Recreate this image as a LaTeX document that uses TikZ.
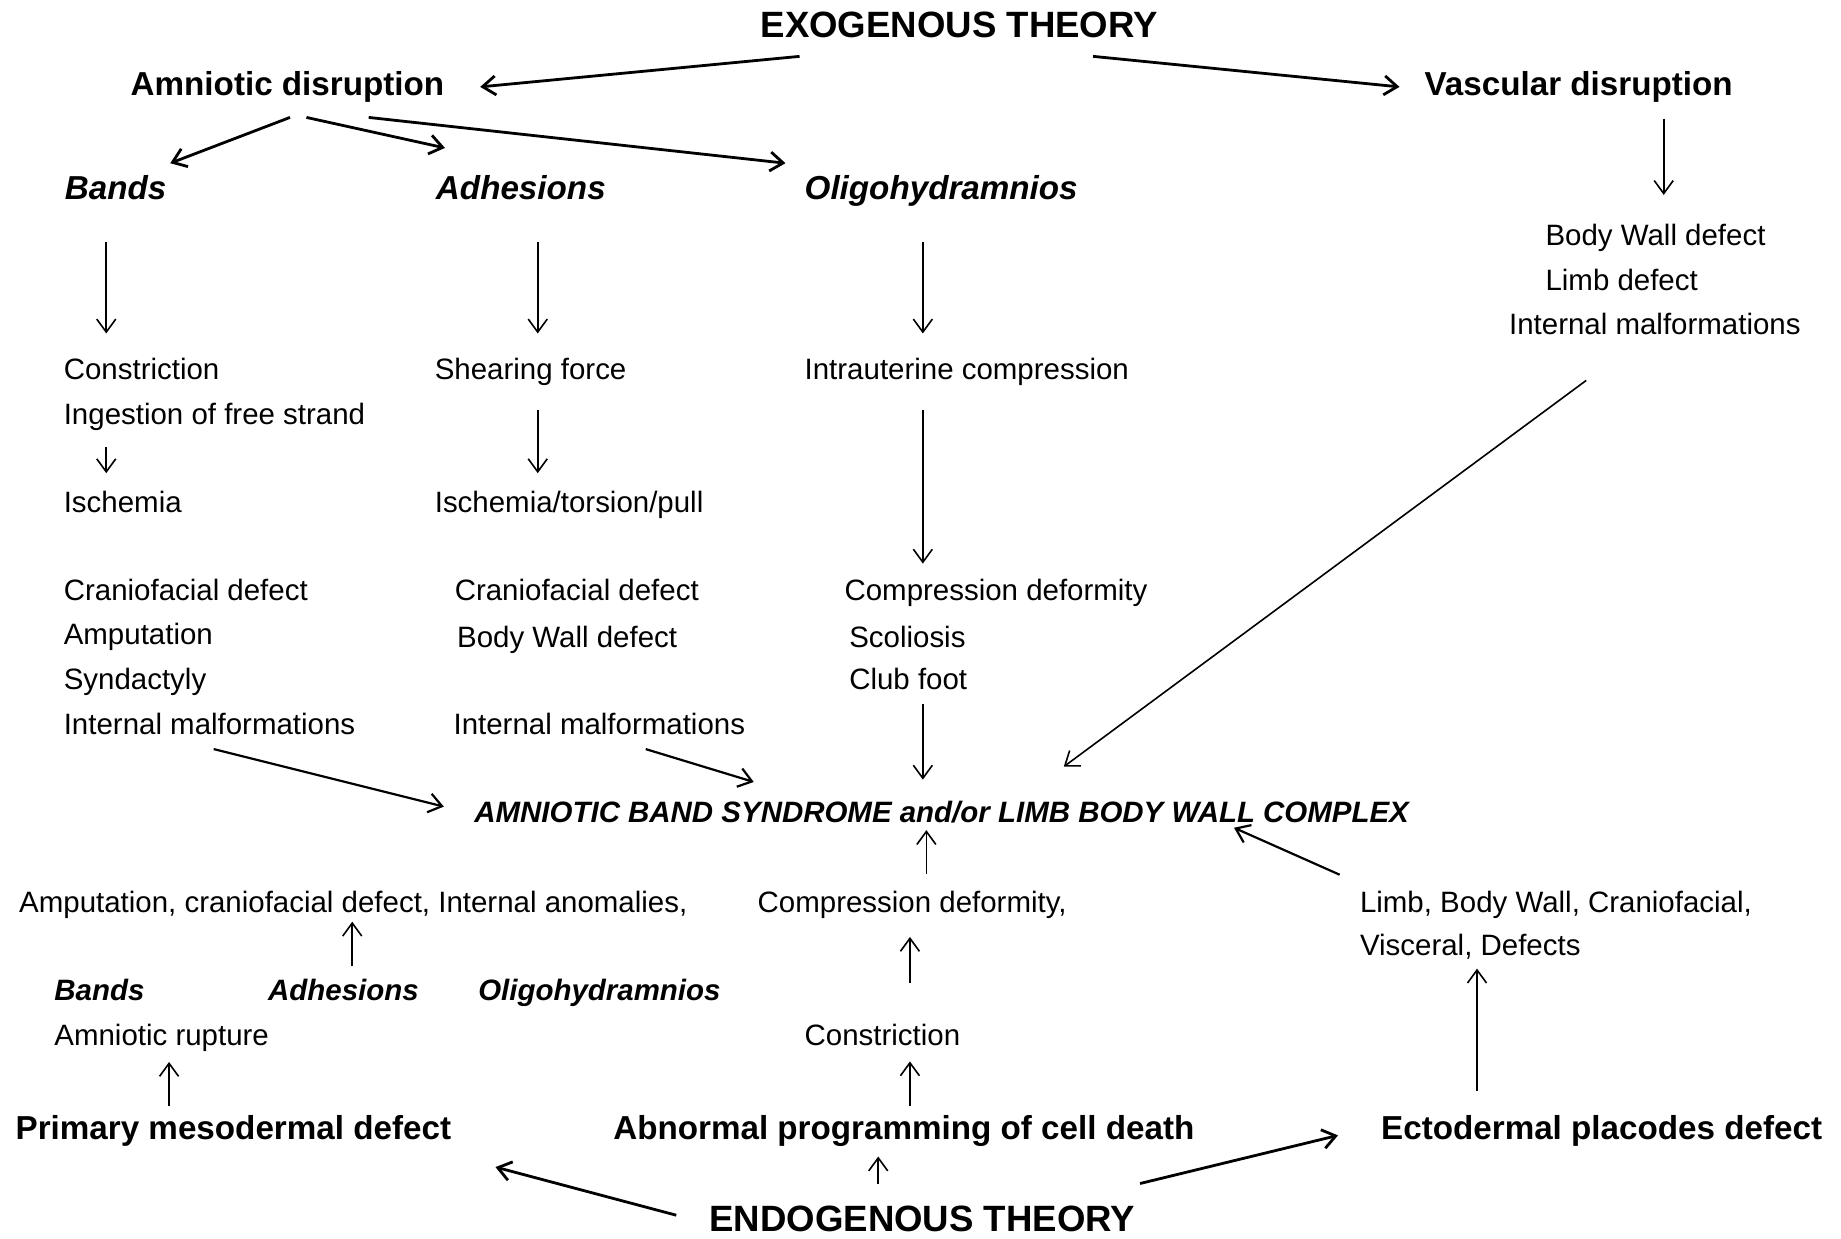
\documentclass[tikz,border=0pt]{standalone}
\usepackage{fontspec}
\setmainfont{Liberation Sans}
\usetikzlibrary{arrows.meta}
\begin{document}
\begin{tikzpicture}[x=0.58705pt,y=-0.58705pt,
  base/.style={inner sep=0pt,text height=1.14em,text depth=0.18em},
  txt/.style={base,anchor=west,font=\fontsize{14.73}{17}\selectfont},
  txti/.style={base,anchor=west,font=\fontsize{14.73}{17}\selectfont\bfseries\itshape},
  hd/.style={base,anchor=west,text height=1.18em,font=\fontsize{16.6}{19}\selectfont\bfseries},
  hdi/.style={base,anchor=west,text height=1.18em,font=\fontsize{16.6}{19}\selectfont\bfseries\itshape},
  ttl/.style={base,anchor=center,text height=1.22em,font=\fontsize{18.3}{21}\selectfont\bfseries},
  abstxt/.style={base,anchor=center,font=\fontsize{14.73}{17}\selectfont\bfseries\itshape},
  arr/.style={-{Straight Barb[length=6.5pt,width=9.5pt]},line width=0.8pt},
  arrm/.style={arr,line width=1.1pt},
  arrt/.style={arr,line width=1.4pt}
]
\useasboundingbox (0,0) rectangle (1568,1055);
% ---- exogenous part
\node[ttl] (exo) at (817,23) {EXOGENOUS THEORY};
\node[hd] (amn) at (111,73) {Amniotic disruption};
\node[hd] (vasc) at (1213,73) {Vascular disruption};
\node[hdi] (bands) at (55,161) {Bands};
\node[hdi] (adh) at (371,161) {Adhesions};
\node[hdi] (oligo) at (685,161) {Oligohydramnios};
\node[txt] (bw1) at (1316,201) {Body Wall defect};
\node[txt] (limb1) at (1316,239) {Limb defect};
\node[txt] (im1) at (1285,277) {Internal malformations};
\node[txt] (constr) at (54,315) {Constriction};
\node[txt] (ingest) at (54,353) {Ingestion of free strand};
\node[txt] (isch) at (54,428) {Ischemia};
\node[txt] (shear) at (370,315) {Shearing force};
\node[txt] (ischtp) at (370,428) {Ischemia/torsion/pull};
\node[txt] (intra) at (685,315) {Intrauterine compression};
\node[txt] (cf1) at (54,503) {Craniofacial defect};
\node[txt] (amp) at (54,541) {Amputation};
\node[txt] (synd) at (54,579) {Syndactyly};
\node[txt] (im2) at (54,617) {Internal malformations};
\node[txt] (cf2) at (387,503) {Craniofacial defect};
\node[txt] (bw2) at (389,543) {Body Wall defect};
\node[txt] (im3) at (386,617) {Internal malformations};
\node[txt] (cd) at (719,503) {Compression deformity};
\node[txt] (scol) at (723,543) {Scoliosis};
\node[txt] (club) at (723,579) {Club foot};
% ---- centre
\node[abstxt] (abs) at (802,692) {AMNIOTIC BAND SYNDROME and/or LIMB BODY WALL COMPLEX};
% ---- endogenous part
\node[txt] (ampline) at (16,769) {Amputation, craniofacial defect, Internal anomalies,};
\node[txt] (cdline) at (645,769) {Compression deformity,};
\node[txt] (limbline) at (1158,769) {Limb, Body Wall, Craniofacial,};
\node[txt] (visc) at (1158,806) {Visceral, Defects};
\node[txti] (bands2) at (46,844) {Bands};
\node[txti] (adh2) at (228,844) {Adhesions};
\node[txti] (oligo2) at (407,844) {Oligohydramnios};
\node[txt] (rupt) at (46,882) {Amniotic rupture};
\node[txt] (constr2) at (685,882) {Constriction};
\node[hd] (pmd) at (13,962) {Primary mesodermal defect};
\node[hd] (apcd) at (522,962) {Abnormal programming of cell death};
\node[hd] (epd) at (1176,962) {Ectodermal placodes defect};
\node[ttl] (endo) at (785.5,1040) {ENDOGENOUS THEORY};
% ---- connectors: exogenous
\draw[arrt] ([shift={(-136,25)}]exo.center) -- ([shift={(298,1)}]amn.west);
\draw[arrt] ([shift={(114,25)}]exo.center) -- ([shift={(-21,1)}]vasc.west);
\draw[arrt] ([shift={(136,27)}]amn.west) -- ([shift={(90,-22)}]bands.west);
\draw[arrt] ([shift={(150,27)}]amn.west) -- ([shift={(8,-35)}]adh.west);
\draw[arrt] ([shift={(203,27)}]amn.west) -- ([shift={(-16,-22)}]oligo.west);
\draw[arr] ([shift={(204,28)}]vasc.west) -- ([shift={(101,-35)}]bw1.west);
\draw[arr] ([shift={(35.5,45)}]bands.west) -- ([shift={(36.5,-31)}]constr.west);
\draw[arr] ([shift={(87,45)}]adh.west) -- ([shift={(88,-31)}]shear.west);
\draw[arr] ([shift={(101,45)}]oligo.west) -- ([shift={(101,-31)}]intra.west);
\draw[arr] ([shift={(36.5,28)}]ingest.west) -- ([shift={(36.5,-25)}]isch.west);
\draw[arr] ([shift={(88,34)}]shear.west) -- ([shift={(88,-25)}]ischtp.west);
\draw[arr] ([shift={(101,34)}]intra.west) -- ([shift={(67,-23)}]cd.west);
\draw[arrm] ([shift={(128,21)}]im2.west) -- ([shift={(-424,-5)}]abs.center);
\draw[arrm] ([shift={(164,21)}]im3.west) -- ([shift={(-160,-26)}]abs.center);
\draw[arr] ([shift={(63,21)}]club.west) -- ([shift={(-16,-28)}]abs.center);
\draw[arr] ([shift={(66,47)}]im1.west) -- ([shift={(104,-39)}]abs.center);
% ---- connectors: endogenous
\draw[arr] ([shift={(144,-25)}]cdline.west) -- ([shift={(-13,15)}]abs.center);
\draw[arrm] ([shift={(-17,-24)}]limbline.west) -- ([shift={(249,13)}]abs.center);
\draw[arr] ([shift={(72,-21)}]adh2.west) -- ([shift={(284,16)}]ampline.west);
\draw[arr] ([shift={(90,-45)}]constr2.west) -- ([shift={(130,29)}]cdline.west);
\draw[arr] ([shift={(82,-33)}]epd.west) -- ([shift={(100,19)}]visc.west);
\draw[arr] ([shift={(131,-20)}]pmd.west) -- ([shift={(98,22.5)}]rupt.west);
\draw[arr] ([shift={(253,-20)}]apcd.west) -- ([shift={(90,22)}]constr2.west);
\draw[arr] ([shift={(-37.5,-32)}]endo.center) -- ([shift={(226,23)}]apcd.west);
\draw[arrt] ([shift={(-209.5,-5)}]endo.center) -- ([shift={(409,32)}]pmd.west);
\draw[arrt] ([shift={(185.5,-32)}]endo.center) -- ([shift={(-36.4,5)}]epd.west);
\end{tikzpicture}
\end{document}
